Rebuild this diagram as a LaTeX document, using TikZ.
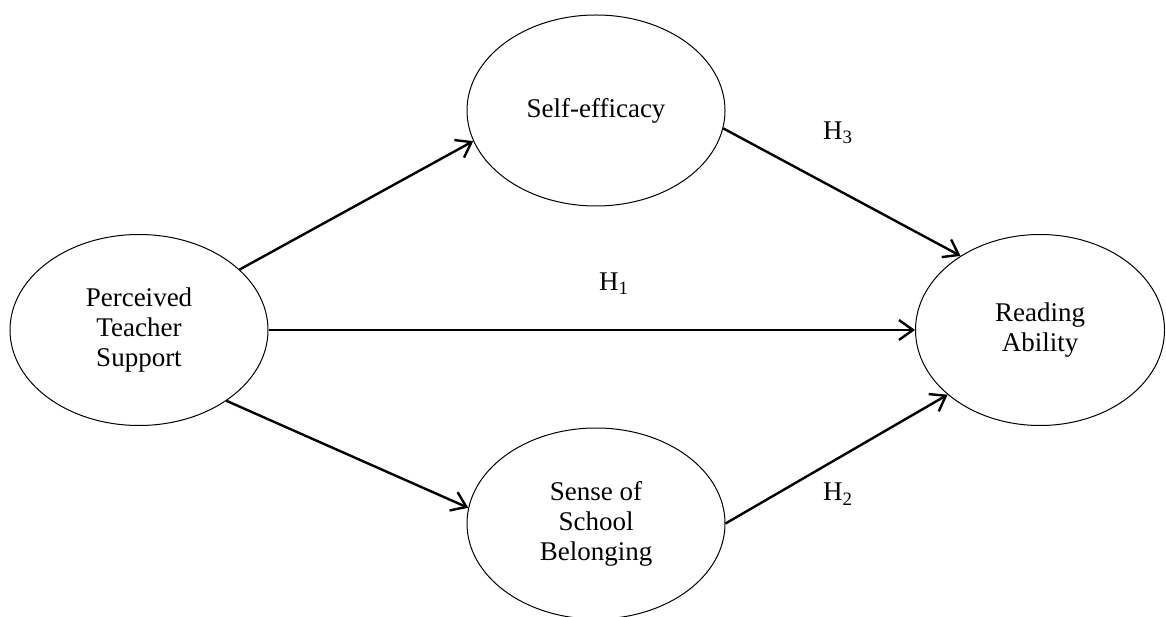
\documentclass[tikz,border=0pt]{standalone}
\usepackage{fontspec}
\setmainfont{Liberation Serif}
\usetikzlibrary{arrows.meta,shapes.geometric}
\tikzstyle{construct}=[draw,ellipse,line width=0.5pt,minimum width=129pt,minimum height=95.5pt,inner sep=0pt,align=center,font=\fontsize{13.5}{15}\selectfont]
\tikzstyle{link}=[line width=1.2pt,-{Straight Barb[length=7pt,width=10pt]}]
\tikzstyle{hyp}=[font=\fontsize{13.5}{15}\selectfont]

\begin{document}
\begin{tikzpicture}[x=0.5pt,y=0.5pt]
\useasboundingbox (0,0) rectangle (1166,616);
\node [construct] (pts) at (139,286) {Perceived\\Teacher\\Support};
\node [construct] (se) at (596,505.5) {Self-efficacy};
\node [construct] (ssb) at (596,92.5) {Sense of\\School\\Belonging};
\node [construct,minimum width=124.5pt] (ra) at (1040,286) {Reading\\Ability};

\draw [link] (pts.31) -- (se.194);
\draw [link] (pts.east) -- (ra.west);
\draw [link] (pts.-39) -- (ssb.173);
\draw [link] (se.-8) -- (ra.137);
\draw [link] (ssb.0) -- (ra.215);

\node [hyp] (h1) at (614,332) {H\textsubscript{1}};
\node [hyp] (h2) at (838,122) {H\textsubscript{2}};
\node [hyp] (h3) at (838,483.5) {H\textsubscript{3}};
\end{tikzpicture}
\end{document}
